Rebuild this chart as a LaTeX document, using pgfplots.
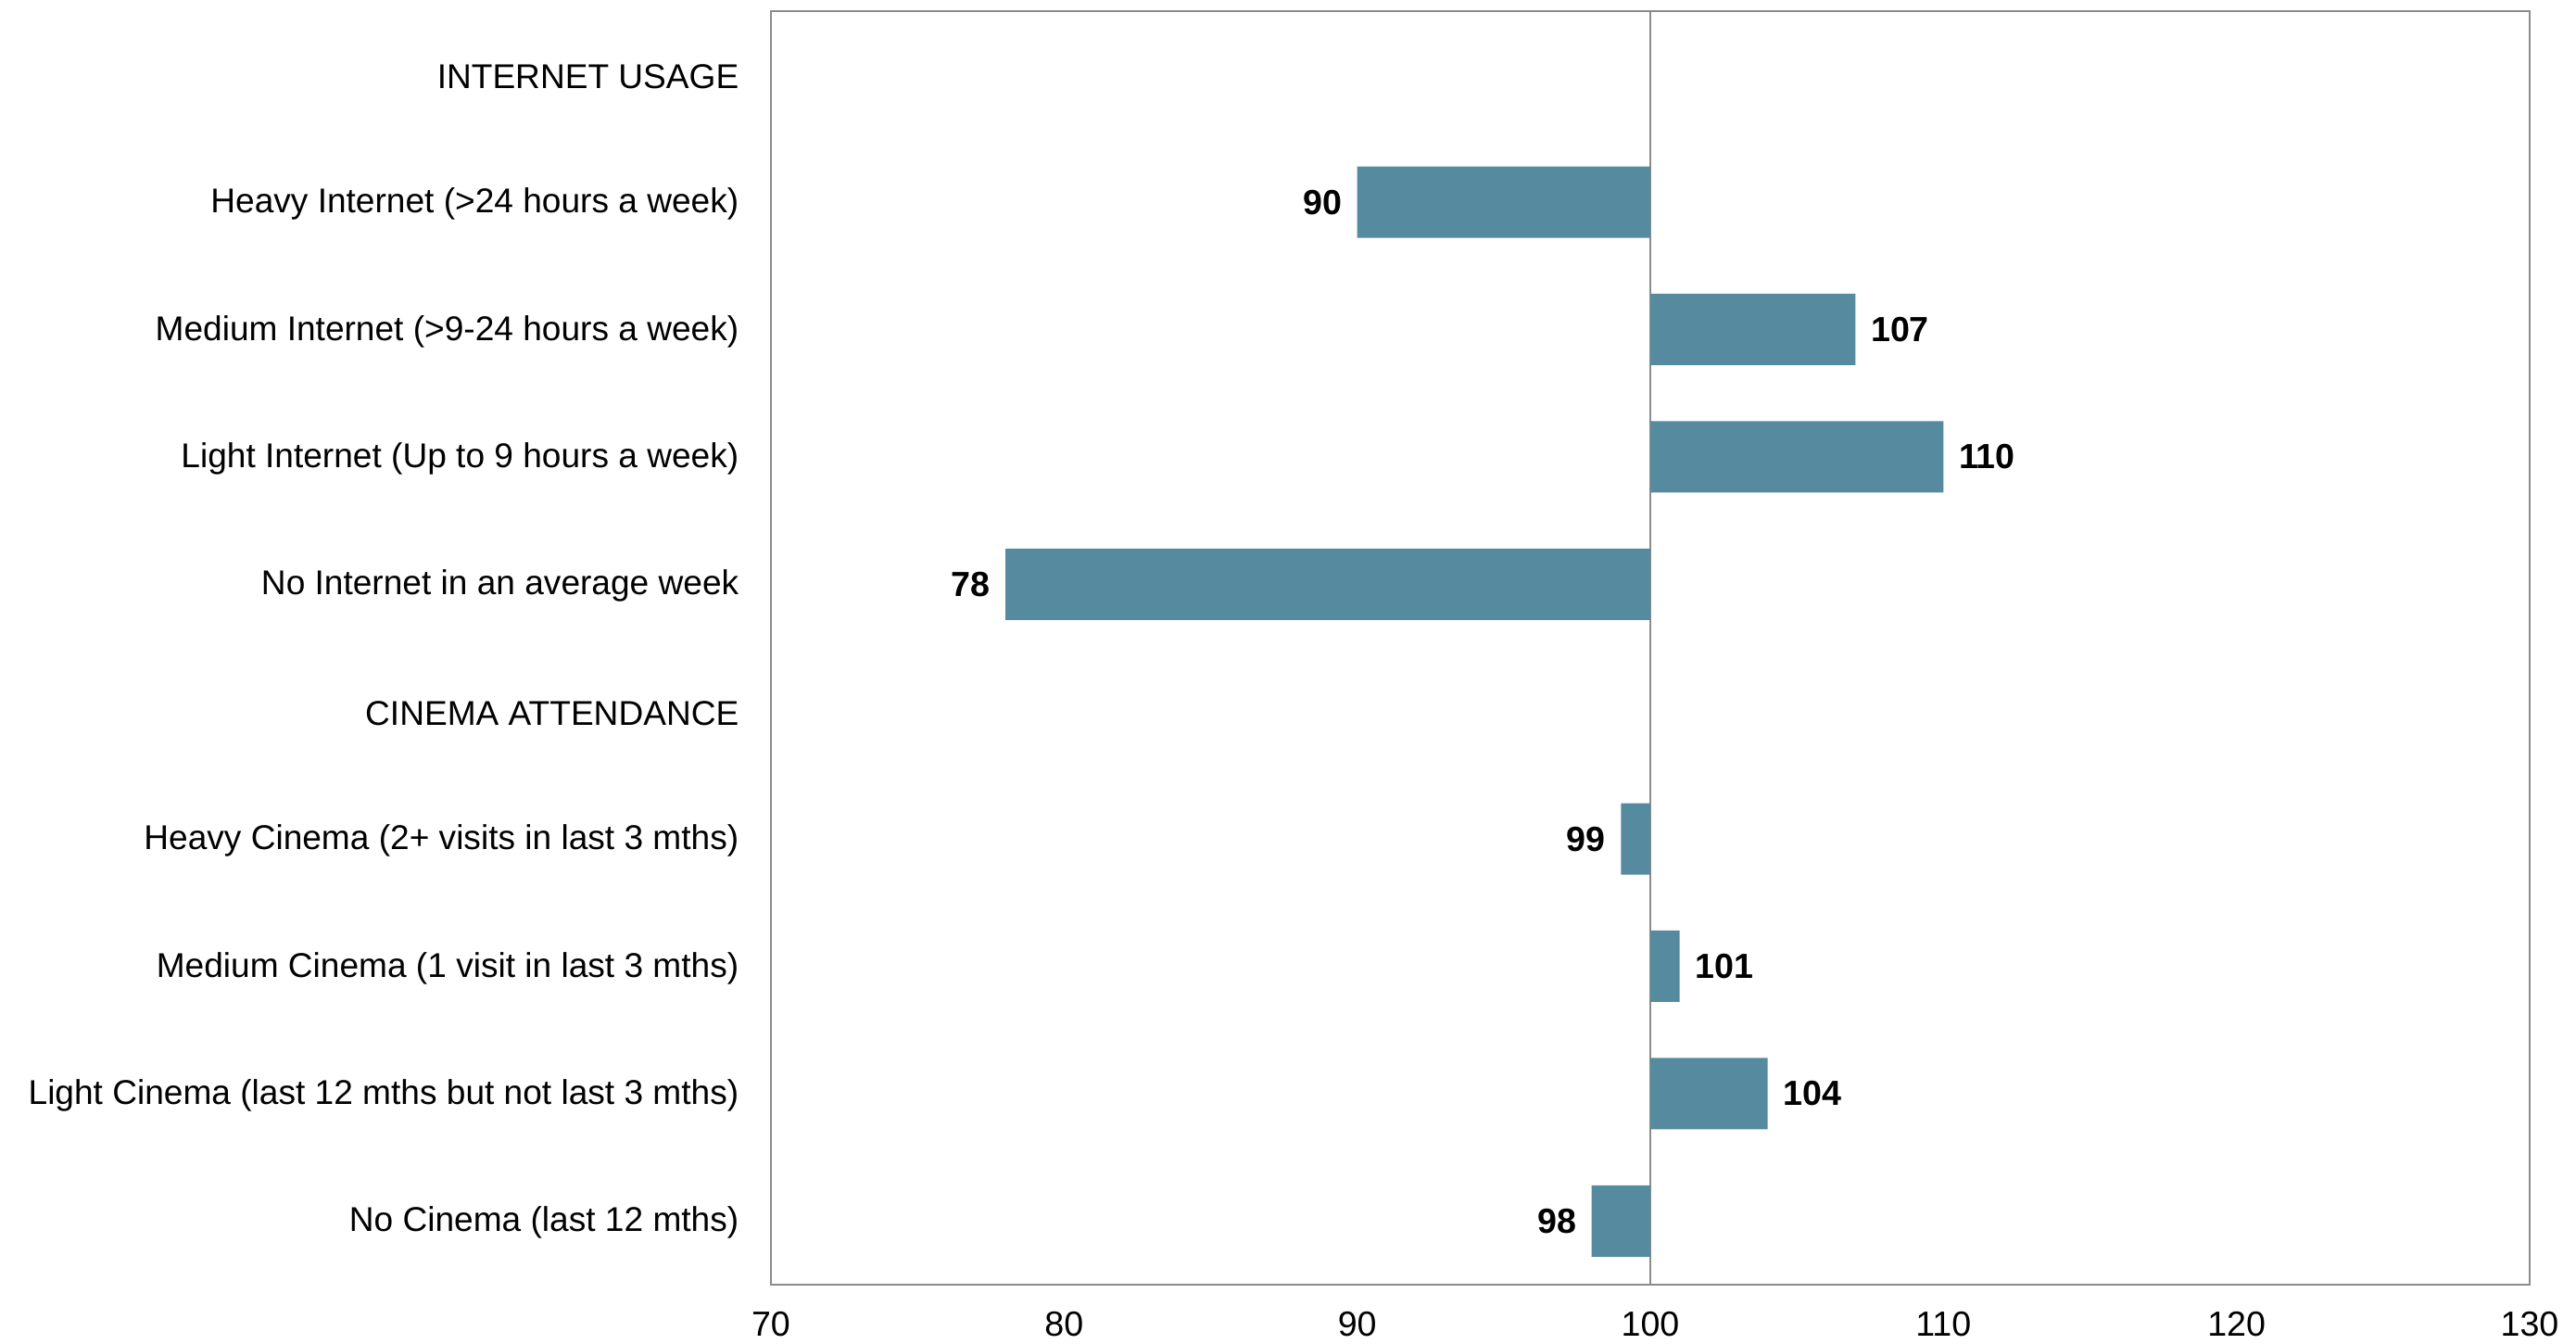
\documentclass[border=0pt]{standalone}
\usepackage{pgfplots}
\pgfplotsset{compat=1.18}
\usepackage{fontspec}
\setmainfont{Liberation Sans}
\definecolor{barc}{HTML}{568A9F}
\definecolor{framec}{HTML}{8C8C8C}
\begin{document}
\begin{tikzpicture}
\path[use as bounding box] (-8.32,-0.63) rectangle (19.48,13.86);
\begin{axis}[at={(0,0)}, anchor=south west, scale only axis,
 width=18.98cm, height=13.74cm,
 xmin=-30, xmax=30, ymin=-0.5, ymax=9.5,
 /pgf/number format/assume math mode=true,
 xtick={-30,-20,...,30}, xticklabels={70,80,90,100,110,120,130},
 ytick={0,...,9},
 yticklabels={{No Cinema (last 12 mths)},{Light Cinema (last 12 mths but not last 3 mths)},{Medium Cinema (1 visit in last 3 mths)},{Heavy Cinema (2+ visits in last 3 mths)},{CINEMA ATTENDANCE},{No Internet in an average week},{Light Internet (Up to 9 hours a week)},{Medium Internet (>9-24 hours a week)},{Heavy Internet (>24 hours a week)},{INTERNET USAGE}},
 major tick length=0pt,
 axis line style={draw=framec, line width=0.6pt},
 xticklabel style={font=\fontsize{10.7}{12}\selectfont, inner sep=0pt, yshift=-0.29cm},
 yticklabel style={font=\fontsize{10.55}{12}\selectfont, inner sep=0pt, xshift=-0.34cm, yshift=-0.02cm},
 extra x ticks={0}, extra x tick labels={},
 extra x tick style={grid=major, major grid style={draw=framec, line width=0.5pt}},
 xbar, bar width=0.77cm, bar shift=0pt,
 nodes near coords, point meta=explicit,
 every node near coord/.append style={font=\bfseries\fontsize{10.7}{12}\selectfont, inner xsep=0.16cm, inner ysep=0pt, text=black},
]
% bars above 100
\addplot[fill=barc, draw=none, nodes near coords style={anchor=west}]
 table[x expr=\thisrow{v}-100, y=y, meta=v] {
y v
7 107
6 110
2 101
1 104
};
% bars below 100
\addplot[fill=barc, draw=none, nodes near coords style={anchor=east}]
 table[x expr=\thisrow{v}-100, y=y, meta=v] {
y v
8 90
5 78
3 99
0 98
};
\end{axis}
\end{tikzpicture}
\end{document}
